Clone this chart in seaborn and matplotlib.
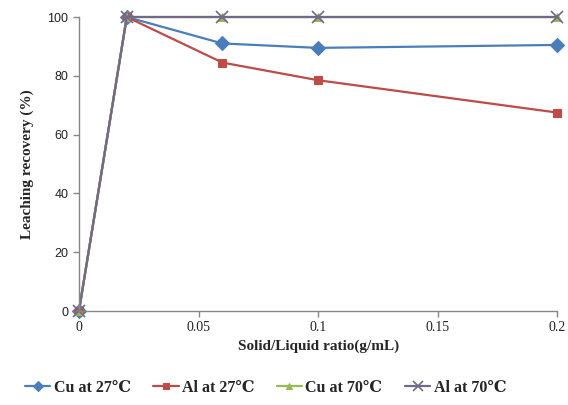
import numpy as np
import pandas as pd
import matplotlib
matplotlib.use('Agg')
import matplotlib.pyplot as plt
import seaborn as sns

sns.set_style('white')
plt.rcParams['font.family'] = ['Liberation Serif', 'DejaVu Serif']

ratio = [0, 0.02, 0.06, 0.1, 0.2]
cu_27 = [0, 100, 91, 89.5, 90.5]
al_27 = [0, 100, 84.5, 78.5, 67.5]
cu_70 = [0, 100, 100, 100, 100]
al_70 = [0, 100, 100, 100, 100]
labels = ['Cu at 27\u2103', 'Al at 27\u2103', 'Cu at 70\u2103', 'Al at 70\u2103']

series = [cu_27, al_27, cu_70, al_70]
colors = ['#4A7EBB', '#BE4B48', '#98B954', '#72688A']
markers = ['D', 's', '^', 'x']
msizes = [7, 5.5, 6, 9]

fig = plt.figure(figsize=(5.68, 4.05), dpi=100)
ax = fig.add_axes([0.139, 0.232, 0.842, 0.726])

for vals, lab, c, m, ms in zip(series, labels, colors, markers, msizes):
    df = pd.DataFrame({'ratio': ratio, 'rec': vals})
    sns.lineplot(data=df, x='ratio', y='rec', ax=ax, color=c, marker=m,
                 markersize=ms, linewidth=1.6, label=lab, clip_on=False,
                 markeredgecolor=c, markeredgewidth=1.2 if m == 'x' else 0.8)

ax.set_xlim(0, 0.2)
ax.set_ylim(0, 100)
ax.set_xticks([0, 0.05, 0.1, 0.15, 0.2])
ax.set_xticklabels(['0', '0.05', '0.1', '0.15', '0.2'], fontsize=10)
ax.set_yticks([0, 20, 40, 60, 80, 100])
ax.set_yticklabels(['0', '20', '40', '60', '80', '100'], fontsize=9,
                   family=['Liberation Sans', 'DejaVu Sans'])
ax.set_xlabel('Solid/Liquid ratio(g/mL)', fontsize=11, fontweight='bold')
ax.set_ylabel('Leaching recovery (%)', fontsize=11, fontweight='bold', labelpad=10)

for s in ['top', 'right']:
    ax.spines[s].set_visible(False)
for s in ['left', 'bottom']:
    ax.spines[s].set_color('#868686')
    ax.spines[s].set_linewidth(1)
ax.tick_params(axis='both', direction='out', length=4, color='#868686', width=1,
               bottom=True, left=True, labelcolor='#222222')

leg = ax.legend(loc='upper center', bbox_to_anchor=(0.39, -0.185), ncol=4, frameon=False,
                handlelength=1.6, handletextpad=0.2, columnspacing=1.4,
                prop={'weight': 'bold', 'size': 11.5})
for h in leg.legend_handles:
    h.set_markersize(h.get_markersize() * 0.75)

fig.savefig('out.png', dpi=100)
